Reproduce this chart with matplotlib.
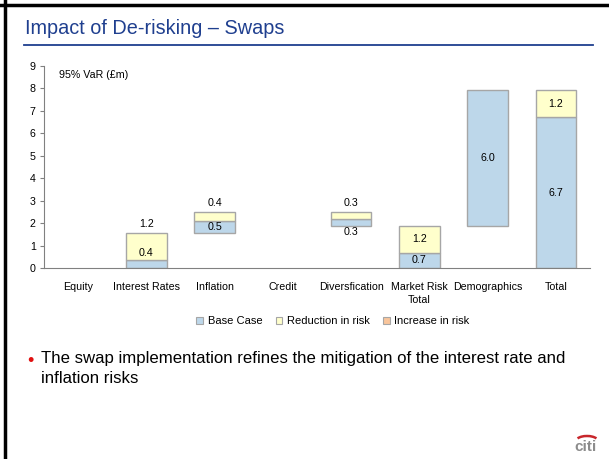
import matplotlib
matplotlib.use('Agg')
import matplotlib.pyplot as plt
import numpy as np
from matplotlib.patches import Arc, Patch

plt.rcParams['font.family'] = ['Liberation Sans', 'DejaVu Sans']

# Donnees du graphique (VaR 95%, en millions de livres)
categories = ['Equity', 'Interest Rates', 'Inflation', 'Credit', 'Diversfication',
              'Market Risk\nTotal', 'Demographics', 'Total']
depart = [0, 0, 1.55, 0, 1.9, 0, 1.9, 0]          # bas flottant de chaque barre
base_case = [0, 0.35, 0.55, 0, 0.28, 0.7, 6.0, 6.7]
reduction = [0, 1.2, 0.4, 0, 0.32, 1.2, 0, 1.2]
augmentation = [0, 0, 0, 0, 0, 0, 0, 0]
series = ['Base Case', 'Reduction in risk', 'Increase in risk']

# Etiquettes affichees et leur emplacement
etiq_base = ['', '0.4', '0.5', '', '0.3', '0.7', '6.0', '6.7']
pos_base = ['', 'haut', 'milieu', '', 'dessous', 'milieu', 'milieu', 'milieu']
etiq_reduc = ['', '1.2', '0.4', '', '0.3', '1.2', '', '1.2']
pos_reduc = ['', 'dessus', 'dessus', '', 'dessus', 'milieu', '', 'milieu']

bleu = '#BDD7EA'
jaune = '#FFFFCC'
orange = '#F9C59B'
bord = '#A6A6A6'
couleurs = [bleu, jaune, orange]

fig = plt.figure(figsize=(6.09, 4.59), dpi=100)

# Cadre noir (haut et gauche) comme sur la diapo
fig.add_artist(plt.Line2D([0, 1], [1 - 5/459, 1 - 5/459], color='black', lw=2.5))
fig.add_artist(plt.Line2D([4.5/609, 4.5/609], [0, 1], color='black', lw=2.5))

# Titre et filet bleu
fig.text(25/609, 1 - 29/459, 'Impact of De-risking \u2013 Swaps', fontsize=14.3,
         color='#1F3F8F', va='center', ha='left')
fig.add_artist(plt.Line2D([24/609, 593/609], [1 - 45/459, 1 - 45/459],
                          color='#1F3F8F', lw=1.3))

ax = fig.add_axes([44/609, 1 - 268.3/459, 546/609, 202.6/459])
x = np.arange(len(categories))
largeur = 0.59

b0 = np.array(depart)
b1 = b0 + np.array(base_case)
b2 = b1 + np.array(reduction)

def bords(valeurs):
    # pas de contour pour les barres vides
    return [bord if v > 0 else 'none' for v in valeurs]

ax.bar(x, base_case, largeur, bottom=b0, color=bleu, edgecolor=bords(base_case), lw=1)
ax.bar(x, reduction, largeur, bottom=b1, color=jaune, edgecolor=bords(reduction), lw=1)
ax.bar(x, augmentation, largeur, bottom=b2, color=orange, edgecolor=bords(augmentation), lw=1)

def place(pos, bas, haut):
    if pos == 'milieu':
        return (bas + haut) / 2
    if pos == 'dessus':
        return haut + 0.4
    if pos == 'dessous':
        return bas - 0.3
    if pos == 'haut':
        return haut + 0.34
    return None

for i in range(len(categories)):
    if etiq_base[i]:
        ax.text(x[i], place(pos_base[i], b0[i], b1[i]), etiq_base[i],
                ha='center', va='center', fontsize=7.7)
    if etiq_reduc[i]:
        ax.text(x[i], place(pos_reduc[i], b1[i], b2[i]), etiq_reduc[i],
                ha='center', va='center', fontsize=7.7)

ax.set_xlim(-0.5, len(categories) - 0.5)
ax.set_ylim(0, 9)
ax.set_yticks(range(0, 10))
ax.set_xticks(x)
ax.set_xticklabels(categories, fontsize=7.7, linespacing=1.3)
ax.tick_params(axis='y', labelsize=7.7, length=3, color='#808080', pad=3)
ax.tick_params(axis='x', length=0, pad=10)
for s in ['top', 'right']:
    ax.spines[s].set_visible(False)
ax.spines['left'].set_color('#808080')
ax.spines['bottom'].set_color('#808080')

ax.text(0.027, 8.6 / 9, '95% VaR (\u00a3m)', fontsize=7.7, ha='left', va='center',
        transform=ax.transAxes)

poignees = [Patch(facecolor=c, edgecolor=bord, lw=0.8, label=s) for c, s in zip(couleurs, series)]
ax.legend(handles=poignees, loc='center', bbox_to_anchor=(0.529, -0.26), ncol=3,
          frameon=False, fontsize=8, handlelength=0.6, handleheight=0.6,
          handletextpad=0.4, columnspacing=1.2)

# Commentaire a puce
fig.text(27/609, 1 - 362/459, '\u2022', color='#E01010', fontsize=13, va='center')
fig.text(41/609, 1 - 351/459,
         'The swap implementation refines the mitigation of the interest rate and\ninflation risks',
         fontsize=12.1, va='top', ha='left', linespacing=1.45)

# Logo citi
fig.text(597/609, 1 - 447/459, 'citi', fontsize=11, color='#8C8C8C', ha='right',
         va='center', fontweight='bold')
fig.add_artist(Arc((587/609, 1 - 441/459), 22/609, 10/459, theta1=20, theta2=160,
                   color='#C8262B', lw=1.8, transform=fig.transFigure))

fig.savefig('out.png', dpi=100)
